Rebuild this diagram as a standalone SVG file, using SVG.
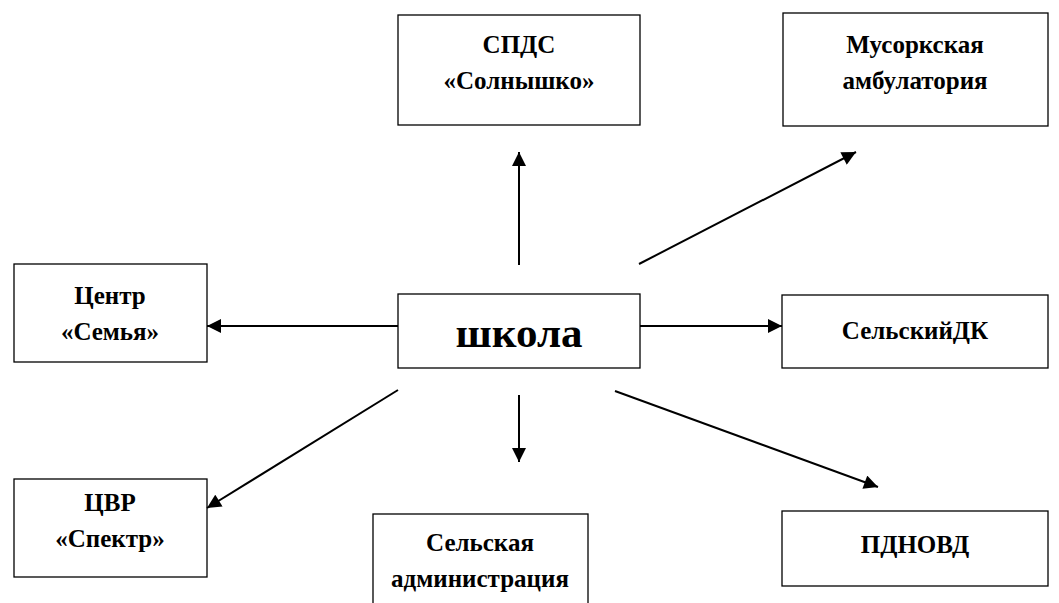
<svg xmlns="http://www.w3.org/2000/svg" width="1059" height="603" viewBox="0 0 1059 603">
<style>
.box{fill:#fff;stroke:#000;stroke-width:1.3}
.t{font-family:"Liberation Serif","Times New Roman",serif;font-weight:bold;font-size:25px;text-anchor:middle;fill:#000}
.big{font-size:43px}
.c{stroke:#000;stroke-width:2;fill:none;marker-end:url(#ah)}
</style>
<defs>
<marker id="ah" viewBox="0 0 10 10" refX="10" refY="5" markerWidth="15" markerHeight="14" markerUnits="userSpaceOnUse" orient="auto">
<path d="M0,0 L10,5 L0,10 z" fill="#000"/>
</marker>
</defs>
<rect width="1059" height="603" fill="#fff"/>
<g id="spds"><rect class="box" x="398" y="15" width="242" height="110"/><text class="t" x="519" y="53">СПДС</text><text class="t" x="519" y="89">«Солнышко»</text></g>
<g id="amb"><rect class="box" x="783" y="13" width="265" height="113"/><text class="t" x="915" y="53">Мусоркская</text><text class="t" x="915" y="89">амбулатория</text></g>
<g id="semya"><rect class="box" x="14" y="264" width="193" height="98"/><text class="t" x="110" y="304">Центр</text><text class="t" x="110" y="340">«Семья»</text></g>
<g id="school"><rect class="box" x="398" y="294" width="242" height="74"/><text class="t big" x="519" y="347">школа</text></g>
<g id="dk"><rect class="box" x="782" y="295" width="266" height="73"/><text class="t" x="915" y="339">СельскийДК</text></g>
<g id="cvr"><rect class="box" x="14" y="479" width="193" height="98"/><text class="t" x="110" y="511">ЦВР</text><text class="t" x="110" y="547">«Спектр»</text></g>
<g id="admin"><rect class="box" x="373" y="514" width="215" height="100"/><text class="t" x="480" y="551">Сельская</text><text class="t" x="480" y="587">администрация</text></g>
<g id="pdn"><rect class="box" x="782" y="511" width="266" height="75"/><text class="t" x="915" y="553">ПДНОВД</text></g>
<g id="connectors">
<line class="c" x1="519" y1="265" x2="519" y2="152"/>
<line class="c" x1="639" y1="264" x2="856" y2="152"/>
<line class="c" x1="398" y1="326" x2="207" y2="326"/>
<line class="c" x1="640" y1="326" x2="782" y2="326"/>
<line class="c" x1="398" y1="390" x2="207" y2="508"/>
<line class="c" x1="519" y1="395" x2="519" y2="462"/>
<line class="c" x1="615" y1="391" x2="878" y2="487"/>
</g>
</svg>
